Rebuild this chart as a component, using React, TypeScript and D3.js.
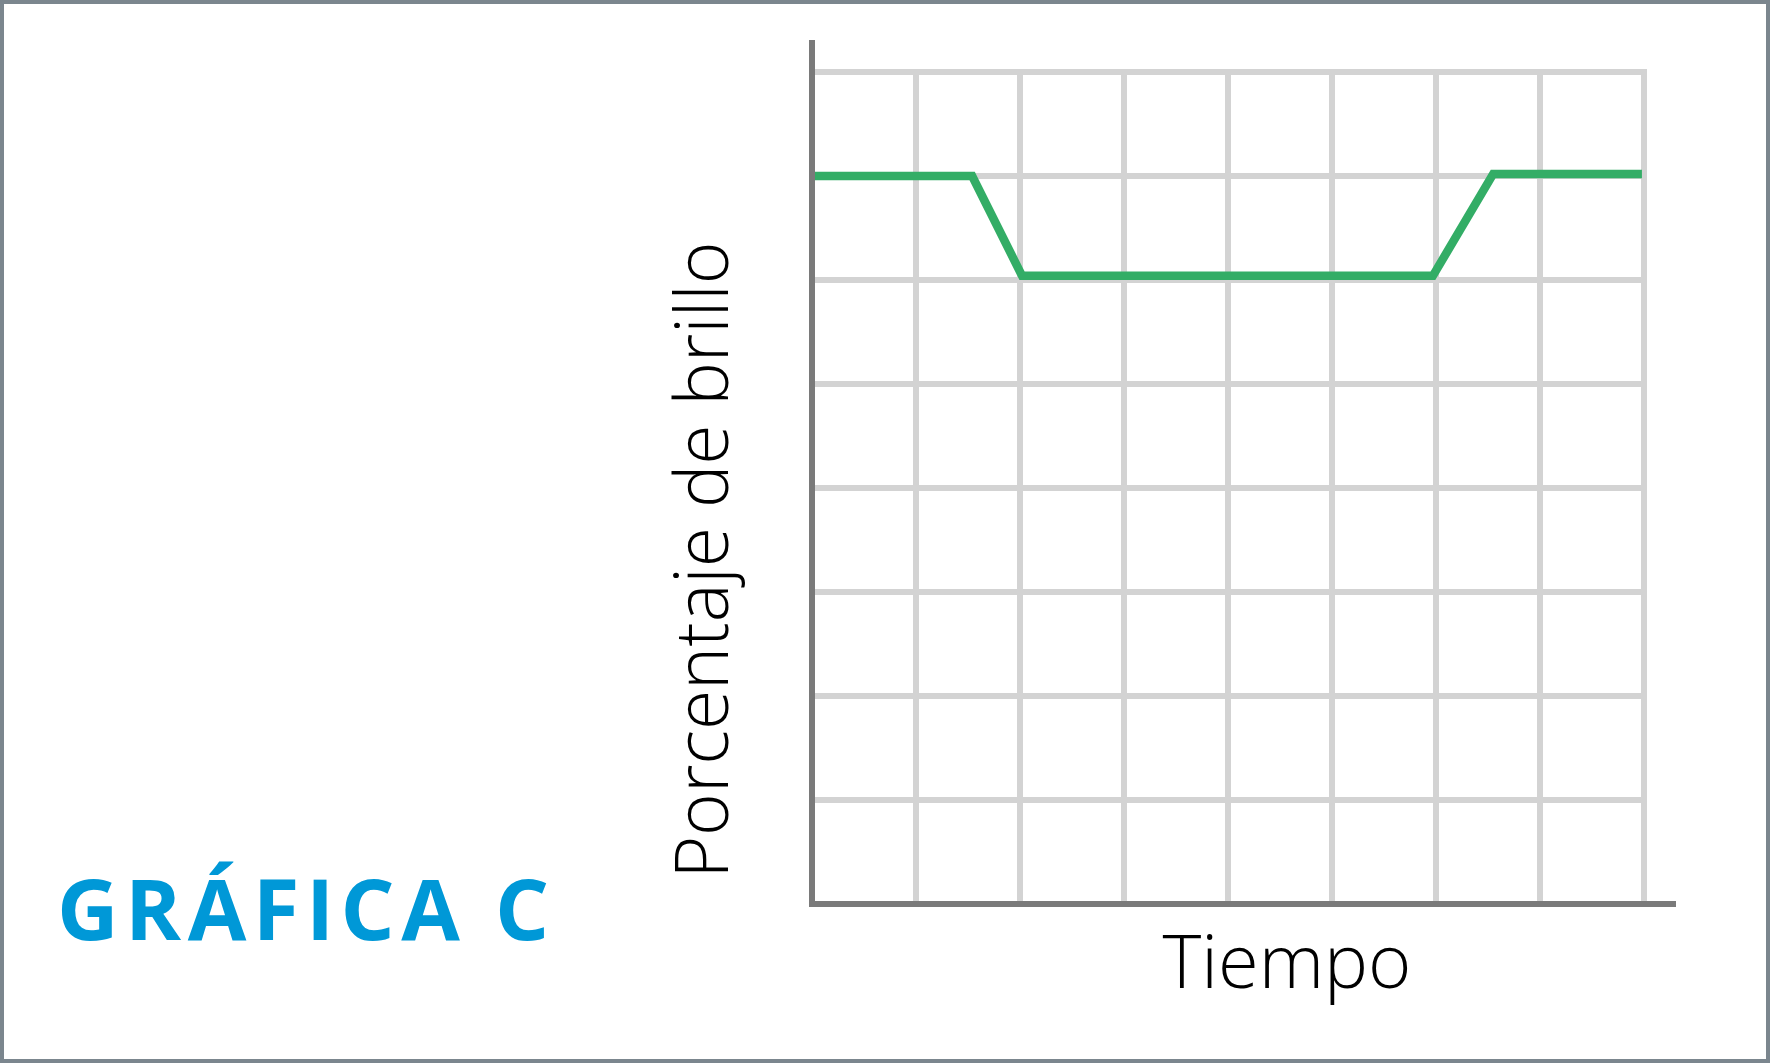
import React from "react";
import * as d3 from "d3";

const W = 1770;
const H = 1063;

// Data (x in grid-column units, y in grid-row units)
const timeValues = [0.02, 1.54, 2.02, 5.97, 6.55, 7.98];
const brightnessValues = [7.0, 7.0, 6.04, 6.04, 7.02, 7.02];
const xGridTicks = [1, 2, 3, 4, 5, 6, 7, 8];
const yGridTicks = [1, 2, 3, 4, 5, 6, 7, 8];

const title = "GRÁFICA C";
const xLabel = "Tiempo";
const yLabel = "Porcentaje de brillo";

export default function App() {
  const left = 812;
  const right = 1644;
  const top = 72;
  const bottom = 904;

  const x = d3.scaleLinear().domain([0, 8]).range([left, right]);
  const y = d3.scaleLinear().domain([0, 8]).range([bottom, top]);

  const points = timeValues.map((t, i) => [t, brightnessValues[i]] as [number, number]);
  const line = d3
    .line<[number, number]>()
    .x((d) => x(d[0]))
    .y((d) => y(d[1]));

  const gridColor = "#d3d3d3";
  const axisColor = "#7a7a7a";

  return (
    <svg
      width={W}
      height={H}
      style={{ position: "absolute", left: 0, top: 0, display: "block" }}
    >
      <rect x={0} y={0} width={W} height={H} fill="#ffffff" />
      <rect x={2} y={2} width={W - 4} height={H - 4} fill="none" stroke="#7b868e" strokeWidth={4} />

      {/* grid */}
      {xGridTicks.map((t) => (
        <line key={"vx" + t} x1={x(t)} x2={x(t)} y1={y(8) - 3} y2={bottom} stroke={gridColor} strokeWidth={6} />
      ))}
      {yGridTicks.map((t) => (
        <line key={"hy" + t} x1={left} x2={x(8) + 3} y1={y(t)} y2={y(t)} stroke={gridColor} strokeWidth={6} />
      ))}

      {/* data line */}
      <path
        d={line(points) || ""}
        fill="none"
        stroke="#33ad66"
        strokeWidth={8.5}
        strokeLinejoin="miter"
      />

      {/* axes */}
      <line x1={left} x2={left} y1={40} y2={bottom + 3} stroke={axisColor} strokeWidth={6} />
      <line x1={left - 3} x2={1676} y1={bottom} y2={bottom} stroke={axisColor} strokeWidth={6} />

      {/* labels */}
      <text
        x={1287}
        y={988}
        textAnchor="middle"
        fontFamily="'Open Sans', 'Noto Sans', sans-serif"
        fontWeight={300}
        fontSize={74}
        fill="#000"
      >
        {xLabel}
      </text>
      <text
        transform="translate(728, 560) rotate(-90)"
        textAnchor="middle"
        fontFamily="'Open Sans', 'Noto Sans', sans-serif"
        fontWeight={300}
        fontSize={73}
        fill="#000"
      >
        {yLabel}
      </text>
      <text
        x={57}
        y={940}
        fontFamily="'Open Sans', 'Noto Sans', sans-serif"
        fontWeight={700}
        fontSize={85}
        letterSpacing={6.5}
        fill="#0098d7"
      >
        {title}
      </text>
    </svg>
  );
}
